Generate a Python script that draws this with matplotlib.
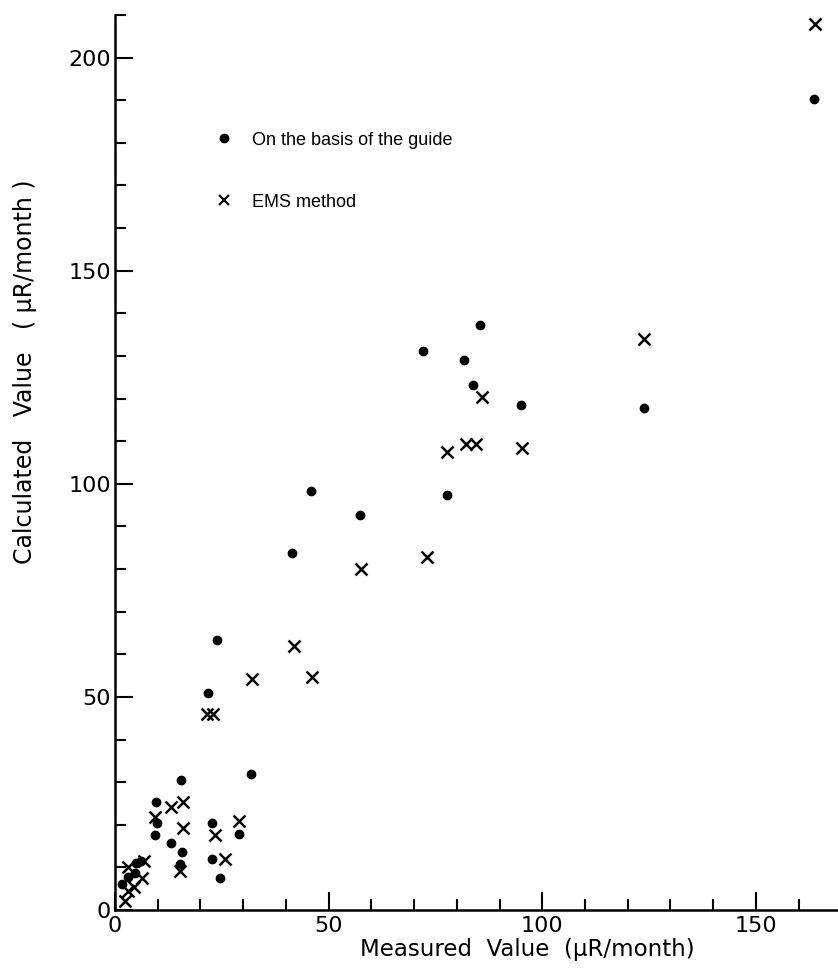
from matplotlib import pyplot as plt
from matplotlib.ticker import MultipleLocator
import numpy as np

plt.rcParams["font.family"] = ["DejaVu Sans"]

# values
guide_x = [163.6, 123.8, 85.4, 72.1, 81.7, 83.8, 95.0, 77.7, 45.9, 57.3, 41.4,
           23.9, 21.8, 31.8, 15.4, 9.6, 9.8, 22.7, 9.4, 29.1, 13.1, 15.6, 22.8,
           15.2, 24.6, 1.6, 3.0, 5.0, 4.6, 6.0]
guide_y = [190.4, 117.9, 137.2, 131.1, 129.0, 123.3, 118.6, 97.3, 98.2, 92.6, 83.7,
           63.3, 50.9, 31.9, 30.5, 25.3, 20.4, 20.4, 17.6, 17.8, 15.7, 13.6, 12.0,
           10.8, 7.5, 6.0, 7.8, 11.0, 8.6, 11.4]

ems_x = [163.8, 123.8, 85.9, 82.1, 84.5, 77.7, 95.2, 73.0, 57.6, 41.9, 32.1, 46.1,
         21.5, 22.9, 13.1, 15.9, 9.4, 15.9, 29.0, 23.4, 25.8, 15.2,
         2.3, 3.0, 3.0, 6.8, 6.3, 4.5]
ems_y = [208.0, 133.9, 120.3, 109.3, 109.3, 107.4, 108.3, 82.8, 80.0, 61.9, 54.2, 54.6,
         46.0, 46.0, 24.1, 25.3, 21.8, 19.2, 20.9, 17.6, 12.0, 9.1,
         2.0, 4.5, 10.2, 11.6, 7.6, 5.5]

x_ticks = [0, 50, 100, 150]
y_ticks = [0, 50, 100, 150, 200]

fig = plt.figure(figsize=(8.38, 9.69), dpi=100)
ax = fig.add_axes([0.1372, 0.0609, 0.8628, 0.9236])

ax.plot(guide_x, guide_y, 'o', color='black', markersize=6, linestyle='none',
        label='On the basis of the guide', clip_on=False)
ax.plot(ems_x, ems_y, 'x', color='black', markersize=9, markeredgewidth=1.8,
        linestyle='none', label='EMS method', clip_on=False)

ax.set_xlim(0, 169.2)
ax.set_ylim(0, 210)

# only left and bottom axis, like the original
ax.spines['top'].set_visible(False)
ax.spines['right'].set_visible(False)
ax.spines['left'].set_linewidth(1.8)
ax.spines['bottom'].set_linewidth(1.8)

ax.set_xticks(x_ticks)
ax.set_yticks(y_ticks)
ax.xaxis.set_minor_locator(MultipleLocator(10))
ax.yaxis.set_minor_locator(MultipleLocator(10))
ax.tick_params(which='major', direction='in', length=13, width=1.5, labelsize=16, pad=4)
ax.tick_params(which='minor', direction='in', length=8, width=1.5)
ax.tick_params(axis='y', which='major', pad=3)

ax.set_xlabel('Measured  Value  (μR/month)', fontsize=16.5)
ax.set_ylabel('Calculated   Value   ( μR/month )', fontsize=17)
ax.xaxis.set_label_coords(0.570, -0.031)
ax.yaxis.set_label_coords(-0.108, 0.601)

leg = ax.legend(loc='upper left', bbox_to_anchor=(0.1387, 0.8697), frameon=False,
                prop={'family': 'Liberation Sans', 'size': 13}, numpoints=1,
                handlelength=1.0, handletextpad=1.05,
                labelspacing=2.5, borderpad=0, borderaxespad=0)
leg.legend_handles[1].set_markersize(7)
leg.legend_handles[1].set_markeredgewidth(1.5)

plt.savefig('out.png', dpi=100)
